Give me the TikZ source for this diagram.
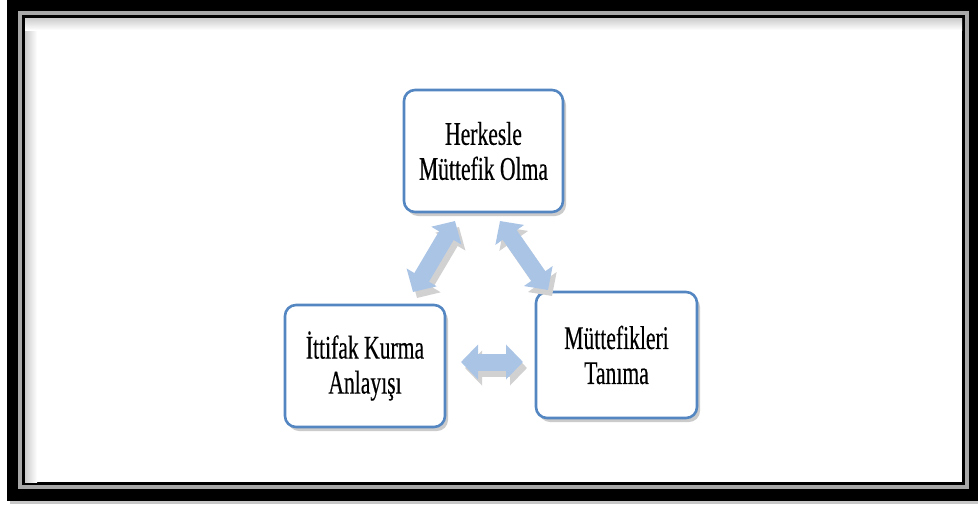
\documentclass[tikz,border=0pt]{standalone}
\usepackage{fontspec}
\newfontfamily\boxfont[FakeStretch=0.655,FakeBold=0.35]{Liberation Serif}
\usetikzlibrary{arrows.meta,shadows}
\definecolor{boxblue}{RGB}{84,134,194}
\definecolor{arrowblue}{RGB}{170,196,230}
\definecolor{framegray}{RGB}{168,168,168}
\tikzset{
  stage/.style={draw=boxblue, line width=2.6pt, fill=white, rounded corners=11pt,
    align=center, inner sep=0pt, text=black,
    font=\boxfont\fontsize{33}{35}\selectfont,
    drop shadow={shadow xshift=3pt, shadow yshift=-4pt, fill=black!45, opacity=.45}},
  dblarrow/.style={line width=17pt, color=arrowblue,
    {Triangle[width=34pt,length=17pt]}-{Triangle[width=34pt,length=17pt]}},
  dblshadow/.style={dblarrow, color=black!18, transform canvas={shift={(4pt,-6pt)}}}
}
\begin{document}
\begin{tikzpicture}[x=1pt,y=-1pt]
\useasboundingbox (0,0) rectangle (978,504);
\fill[white] (0,0) rectangle (978,504);

% picture frame: black band, grey rule, black rule, shaded white panel
\fill[black!22] (10,501) rectangle (978,504);
\fill[black] (7,0) rectangle (978,501);
\fill[framegray] (18,11) rectangle (969,489);
\fill[black] (22,15) rectangle (965,485);
\fill[white] (25,18) rectangle (962,482);
\shade[left color=black!20, right color=white] (25,18) rectangle (37,482);
\shade[top color=black!20, bottom color=white] (25,18) rectangle (962,30);

% the three stages
\node[stage, minimum width=159pt, minimum height=122pt] (herkes) at (483.5,151) {Herkesle\\Müttefik Olma};
\node[stage, minimum width=160pt, minimum height=122pt] (ittifak) at (365,366) {İttifak Kurma\\Anlayışı};
\node[stage, minimum width=161pt, minimum height=126pt] (tanima) at (616.5,355) {Müttefikleri\\Tanıma};

% arrow end points in the gaps between the stages
\coordinate (p1) at (413,292);
\coordinate (p2) at (455,221);
\coordinate (q1) at (500,221);
\coordinate (q2) at (548,290);
\coordinate (r1) at (461,362);
\coordinate (r2) at (523,362);

% shadows, then the double arrows
\draw[dblshadow] (p1) -- (p2);
\draw[dblshadow] (q1) -- (q2);
\draw[dblshadow] (r1) -- (r2);
\draw[dblarrow] (p1) -- (p2);
\draw[dblarrow] (q1) -- (q2);
\draw[dblarrow] (r1) -- (r2);
\end{tikzpicture}
\end{document}
